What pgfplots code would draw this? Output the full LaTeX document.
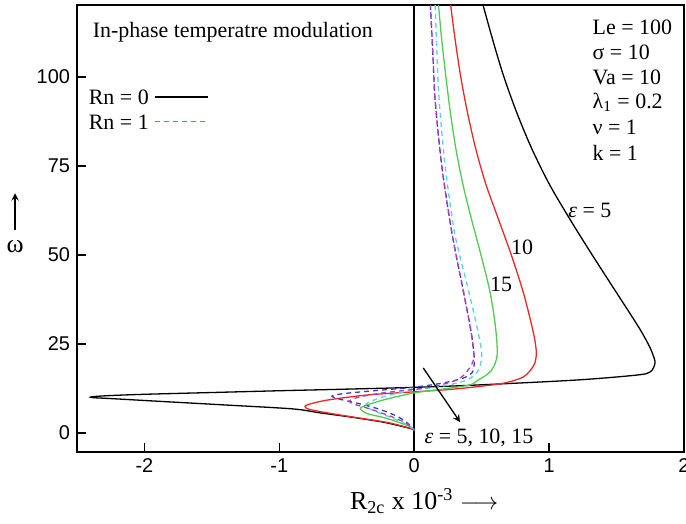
\documentclass[border=0pt]{standalone}
\usepackage{pgfplots}
\pgfplotsset{compat=1.18}
\usepackage{fontspec}
\setmainfont{Liberation Serif}
\setsansfont{Liberation Sans}
\definecolor{cRed}{RGB}{235,40,40}
\definecolor{cGreen}{RGB}{80,205,80}
\definecolor{cBlue}{RGB}{60,60,205}
\definecolor{cCyan}{RGB}{90,210,215}
\definecolor{cMag}{RGB}{175,60,195}
\tikzset{txt/.style={font=\fontsize{11}{13}\selectfont, inner sep=0}}
\begin{document}
\begin{tikzpicture}
\begin{axis}[name=ax, scale only axis, width=303.5bp, height=223.5bp,
  xmin=-2.5, xmax=2, ymin=-5.3, ymax=120.2,
  xtick={-2,-1,0,1,2}, ytick={0,25,50,75,100},
  tick align=inside, tick pos=left, major tick length=4.5bp,
  axis line style={line width=1bp},
  major tick style={line width=0.8bp, black},
  ticklabel style={font=\sffamily\fontsize{10}{12}\selectfont},
  /pgf/number format/assume math mode=true,
  clip mode=individual,
  every axis plot/.append style={line width=0.65bp, smooth, tension=0.5},
  ]
\draw[line width=1bp] (axis cs:0,-5.3) -- (axis cs:0,120.2);
% Rn = 0, eps = 5
\addplot[black] coordinates {
(0.51,120.2) (0.585,110) (0.665,100) (0.76,90) (0.87,80) (1.0,70) (1.155,60)
(1.32,50) (1.49,40) (1.66,30) (1.735,25) (1.77,22) (1.785,19.6) (1.75,17.2) (1.65,16.3)
(1.2,14.9) (0.46,13.5) (0,12.85) (-0.5,12.35) (-1.0,11.9) (-1.5,11.4) (-2.0,10.9)
(-2.25,10.55) (-2.37,10.28) (-2.40,10.1) (-2.37,9.93) (-2.25,9.7) (-1.9,8.95)
(-1.4,7.9) (-0.9,6.8) (-0.7,5.7) (-0.45,4.4) (-0.22,3.0) (-0.05,1.5) (0,1.0)};
% Rn = 0, eps = 10
\addplot[cRed] coordinates {
(0.27,120.2) (0.305,110) (0.345,100) (0.395,90) (0.455,80) (0.53,70) (0.625,60)
(0.72,50) (0.805,40) (0.86,32) (0.89,27) (0.905,23) (0.90,20.5) (0.88,18.6) (0.81,15.8)
(0.66,14.0) (0.41,12.8) (0.21,12.1) (0,11.6)
(-0.35,10.7) (-0.64,9.3) (-0.78,8.1) (-0.81,7.4) (-0.77,6.6) (-0.6,5.4)
(-0.4,4.2) (-0.2,3.0) (-0.05,1.6) (0,1.0)};
% Rn = 0, eps = 15
\addplot[cGreen] coordinates {
(0.18,120.2) (0.205,110) (0.235,100) (0.268,90) (0.308,80) (0.36,70) (0.425,60)
(0.495,50) (0.56,40) (0.595,32) (0.612,26) (0.615,22) (0.60,19.6) (0.57,17.5)
(0.53,16.2) (0.47,14.8) (0.41,13.5) (0.2,12.3) (0,11.3)
(-0.23,9.3) (-0.37,7.6) (-0.40,6.9) (-0.35,5.5) (-0.20,4.1) (-0.03,1.8) (0,0.8)};
% Rn = 1
\addplot[cBlue, dash pattern=on 2.5bp off 2bp] coordinates {
(0.12,120.2) (0.14,105) (0.155,93.5) (0.205,74.8) (0.28,56.1) (0.353,42) (0.415,29.9)
(0.44,23.3) (0.445,19.6) (0.43,17) (0.36,15.4) (0.2,14) (0,12.9) (-0.3,11.9)
(-0.5,11.2) (-0.59,10.7) (-0.61,10.3) (-0.56,9.6) (-0.4,8.2) (-0.25,6.6)
(-0.12,4.6) (-0.04,2.5) (0,0.5)};
\addplot[cCyan, dash pattern=on 2.5bp off 2bp] coordinates {
(0.155,120.2) (0.17,105) (0.185,93.5) (0.23,74.8) (0.30,56.1) (0.39,42) (0.465,29.9)
(0.50,22.4) (0.477,17.7) (0.39,14.9) (0.21,13.2) (0,12.1) (-0.2,10.5)
(-0.33,8.8) (-0.36,7.5) (-0.30,6.3) (-0.18,4.5) (-0.06,2.5) (0,1.0)};
\addplot[cMag, dash pattern=on 2.5bp off 2bp, dash phase=1bp] coordinates {
(0.12,120.2) (0.14,105) (0.155,93.5) (0.205,74.8) (0.28,56.1) (0.353,42) (0.415,29.9)
(0.44,23.3) (0.43,19.6) (0.34,15.4) (0.17,13.3) (0,12.3) (-0.25,11.2)
(-0.42,10) (-0.48,9) (-0.45,8.2) (-0.33,6.8) (-0.18,4.8) (-0.06,2.8) (0,0.8)};
% annotations
\node[txt, anchor=west] at (axis cs:-2.385,112.6) {In-phase temperatre modulation};
\node[txt, anchor=west] at (axis cs:-2.415,94.4) {Rn = 0};
\draw[black, line width=0.65bp] (axis cs:-1.92,94.4) -- (axis cs:-1.53,94.4);
\node[txt, anchor=west] at (axis cs:-2.415,87.4) {Rn = 1};
\draw[cBlue!70, line width=0.65bp, dash pattern=on 2.5bp off 2bp] (axis cs:-1.92,87.4) -- (axis cs:-1.53,87.4);
\node[txt, anchor=west] at (axis cs:1.32,113.8) {Le = 100};
\node[txt, anchor=west] at (axis cs:1.32,106.8) {σ = 10};
\node[txt, anchor=west] at (axis cs:1.32,99.8) {Va = 10};
\node[txt, anchor=west] at (axis cs:1.32,92.8) {λ\textsubscript{1} = 0.2};
\node[txt, anchor=west] at (axis cs:1.32,85.8) {ν = 1};
\node[txt, anchor=west] at (axis cs:1.32,78.8) {k = 1};
\node[txt, anchor=west] at (axis cs:1.14,62.5) {\textit{ε} = 5};
\node[txt] at (axis cs:0.80,52.1) {10};
\node[txt] at (axis cs:0.644,41.7) {15};
\node[txt] at (axis cs:0.48,-1.3) {\textit{ε} = 5, 10, 15};
\draw[-stealth, line width=0.65bp] (axis cs:0.067,18.3) -- (axis cs:0.34,3.1);
% axis labels
\node[font=\fontsize{13}{15}\selectfont] at (axis description cs:0.572,-0.11) {R\textsubscript{2c} x 10\textsuperscript{-3} $\longrightarrow$};
\draw[-stealth, line width=0.65bp] (axis description cs:-0.102,0.497) -- (axis description cs:-0.102,0.579);
\node[font=\fontsize{13}{15}\selectfont] at (axis description cs:-0.102,0.459) {ω};
\end{axis}
\pgfresetboundingbox
\useasboundingbox ([xshift=-38.5bp,yshift=-36bp]ax.south west) rectangle ([xshift=1bp,yshift=2.5bp]ax.north east);
\end{tikzpicture}
\end{document}
